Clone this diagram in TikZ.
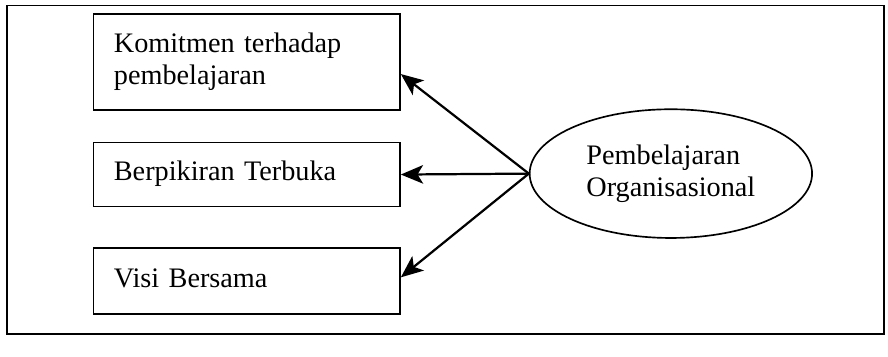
\documentclass[tikz,border=0pt]{standalone}
\usepackage{fontspec}
\setmainfont{Liberation Serif}
\usetikzlibrary{shapes.geometric,arrows.meta,calc}
\tikzset{
  boxnode/.style={draw, line width=1.8pt, minimum width=331pt, text width=287pt,
    inner xsep=22pt, inner ysep=0pt, align=left,
    font=\fontsize{30.5}{34}\selectfont,
    execute at begin node=\strut, execute at end node=\strut},
  orgnode/.style={draw, ellipse, line width=1.8pt, minimum width=305pt, minimum height=139pt,
    inner sep=0pt, align=left, font=\fontsize{30.5}{35}\selectfont},
  arr/.style={line width=2.4pt, -{Stealth[length=24pt,width=20pt,inset=6pt]}},
  framestyle/.style={line width=2pt}
}
\begin{document}
\begin{tikzpicture}[x=1pt,y=-1pt]
\useasboundingbox (0,0) rectangle (959,384.5);
\draw[framestyle] (8,6) rectangle (955,361);
\node[boxnode, minimum height=104pt] (box1) at (266.5,67) {Komitmen terhadap\\pembelajaran};
\node[boxnode, minimum height=69pt] (box2) at (266.5,188.5) {Berpikiran Terbuka};
\node[boxnode, minimum height=71pt] (box3) at (266.5,303.5) {Visi Bersama};
\node[orgnode] (org) at (724.5,187.5) {Pembelajaran\\Organisasional};
\draw[arr] (org.west) -- ($(box1.east)+(0,13)$);
\draw[arr] (org.west) -- (box2.east);
\draw[arr] (org.west) -- ($(box3.east)+(0,-4)$);
\end{tikzpicture}
\end{document}
